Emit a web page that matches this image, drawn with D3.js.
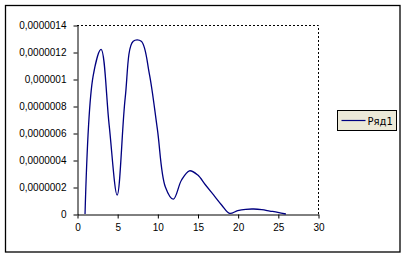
<!DOCTYPE html>
<html>
<head>
<meta charset="utf-8">
<script src="https://cdnjs.cloudflare.com/ajax/libs/d3/7.8.5/d3.min.js"></script>
<style>
  body { margin: 0; background: #fff; }
  svg { display: block; }
</style>
</head>
<body>
<div id="chart"></div>
<script>
// values (y in units of 1e-6)
var xs = [1, 2, 3, 4, 5, 6, 7, 8, 9, 10, 11, 12, 13, 14, 15, 16, 17, 18, 19, 20, 21, 22, 23, 24, 25, 26];
var ys = [0, 1.02, 1.22, 0.66, 0.14, 0.86, 1.28, 1.28, 1.04, 0.63, 0.2, 0.11, 0.25, 0.32, 0.29, 0.215, 0.141, 0.067, 0.005, 0.025, 0.035, 0.037, 0.032, 0.022, 0.012, 0];
var seriesName = "Ряд1";

var xTicks = [0, 5, 10, 15, 20, 25, 30];
var yTicks = [0, 0.2, 0.4, 0.6, 0.8, 1.0, 1.2, 1.4];
var yTickLabels = ["0", "0,0000002", "0,0000004", "0,0000006", "0,0000008", "0,000001", "0,0000012", "0,0000014"];

var width = 406, height = 257;

var svg = d3.select("#chart")
    .append("svg")
    .attr("width", width)
    .attr("height", height);

// outer chart frame
svg.append("rect")
    .attr("x", 5.5).attr("y", 5.5)
    .attr("width", 394.5).attr("height", 246.5)
    .style("fill", "#fff")
    .style("stroke", "#000")
    .style("stroke-width", 1.3);

var x = d3.scaleLinear().domain([0, 30]).range([77, 318]);
var y = d3.scaleLinear().domain([0, 1.4]).range([214, 25]);

// dotted top and right edge of plot area
svg.append("path")
    .attr("d", "M" + x(0) + "," + (y(1.4) + 0.5) + "H" + (x(30) + 0.5) + "V" + y(0))
    .style("fill", "none")
    .style("stroke", "#000")
    .style("stroke-dasharray", "2,2");

var yAxis = svg.append("g")
    .attr("transform", "translate(" + (x(0) + 0.5) + ",0.5)")
    .call(d3.axisLeft(y)
        .tickValues(yTicks)
        .tickFormat(function(d, i) { return yTickLabels[i]; })
        .tickSizeInner(4).tickSizeOuter(0).tickPadding(7));

var xAxis = svg.append("g")
    .attr("transform", "translate(0.5," + (y(0) + 0.5) + ")")
    .call(d3.axisBottom(x)
        .tickValues(xTicks)
        .tickSizeInner(4).tickSizeOuter(0).tickPadding(5));

svg.selectAll(".tick text")
    .style("font-family", "'Liberation Sans', Arial, sans-serif")
    .style("font-size", "10px")
    .style("fill", "#000");
svg.selectAll(".domain, .tick line").style("stroke", "#000");

var line = d3.line()
    .x(function(d, i) { return x(xs[i]); })
    .y(function(d) { return y(d); })
    .curve(d3.curveCatmullRom.alpha(0.5));

svg.append("path")
    .datum(ys)
    .attr("d", line)
    .style("fill", "none")
    .style("stroke", "#000080")
    .style("stroke-width", 1.3);

// legend
var legend = svg.append("g").attr("transform", "translate(337.5,110.5)");
legend.append("rect")
    .attr("width", 59).attr("height", 20)
    .style("fill", "#ECE9D8")
    .style("stroke", "#000");
legend.append("line")
    .attr("x1", 4).attr("x2", 28)
    .attr("y1", 10).attr("y2", 10)
    .style("stroke", "#000080")
    .style("stroke-width", 1.2);
legend.append("text")
    .attr("x", 30).attr("y", 14)
    .style("font-family", "'DejaVu Sans', sans-serif")
    .style("font-size", "10px")
    .text(seriesName);
</script>
</body>
</html>
